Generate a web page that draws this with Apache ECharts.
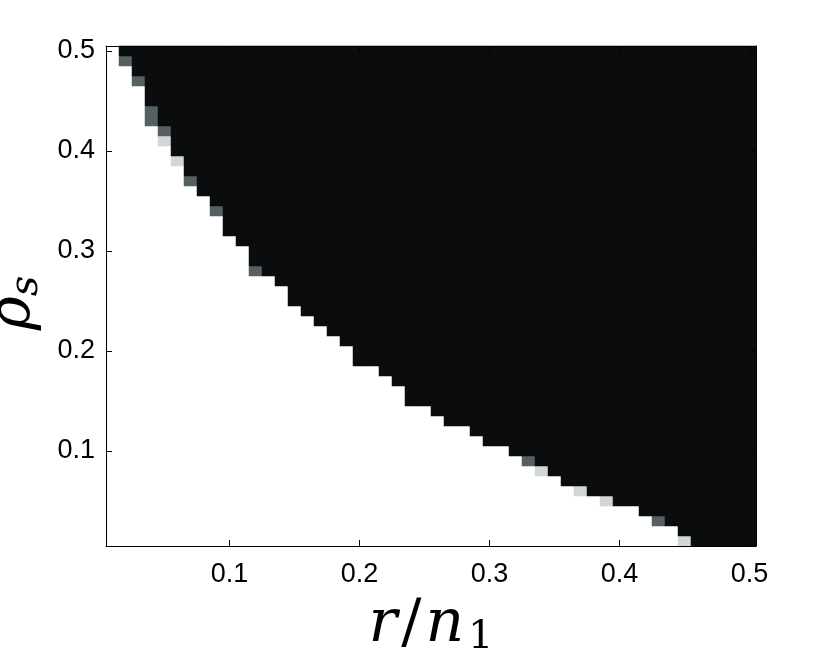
<!DOCTYPE html>
<html>
<head>
<meta charset="utf-8">
<script src="https://cdn.jsdelivr.net/npm/echarts@6/dist/echarts.min.js"></script>
<style>
html, body { margin: 0; padding: 0; background: #fff; }
#chart { width: 830px; height: 657px; }
</style>
</head>
<body>
<div id="chart"></div>
<script>
// r/n1 columns
const xCats = ["0.01","0.02","0.03","0.04","0.05","0.06","0.07","0.08","0.09","0.10",
  "0.11","0.12","0.13","0.14","0.15","0.16","0.17","0.18","0.19","0.20",
  "0.21","0.22","0.23","0.24","0.25","0.26","0.27","0.28","0.29","0.30",
  "0.31","0.32","0.33","0.34","0.35","0.36","0.37","0.38","0.39","0.40",
  "0.41","0.42","0.43","0.44","0.45","0.46","0.47","0.48","0.49","0.50"];
// rho_s rows (bottom to top)
const yCats = xCats.slice();

// for each row (rho_s = 0.01 .. 0.50) the r/n1 where the black region begins
const blackFrom = [0.46,0.45,0.44,0.42,0.40,0.38,0.36,0.35,0.34,0.32,
  0.30,0.29,0.27,0.26,0.24,0.24,0.23,0.22,0.20,0.20,
  0.19,0.18,0.17,0.16,0.15,0.15,0.14,0.13,0.12,0.12,
  0.11,0.10,0.10,0.10,0.09,0.08,0.08,0.07,0.07,0.06,
  0.06,0.06,0.05,0.05,0.04,0.04,0.04,0.03,0.03,0.02];

// grey cells on the boundary: [r/n1, rho_s, value]
const partial = [
  [0.02,0.49,0.65],[0.03,0.47,0.65],[0.04,0.44,0.65],[0.04,0.43,0.65],
  [0.05,0.42,0.65],[0.05,0.41,0.2],[0.06,0.39,0.2],[0.07,0.37,0.65],
  [0.09,0.34,0.65],[0.12,0.28,0.65],[0.33,0.09,0.65],[0.34,0.08,0.2],
  [0.37,0.06,0.2],[0.39,0.05,0.2],[0.43,0.03,0.65],[0.45,0.01,0.2]
];

const tickLabels = ["0.1","0.2","0.3","0.4","0.5"];

const data = [];
const grid = yCats.map((y, k) => xCats.map(x => (parseFloat(x) >= blackFrom[k] - 1e-9 ? 1 : 0)));
partial.forEach(p => {
  const j = xCats.indexOf(p[0].toFixed(2));
  const k = yCats.indexOf(p[1].toFixed(2));
  grid[k][j] = p[2];
});
grid.forEach((row, k) => row.forEach((v, j) => data.push([j, k, v])));

const showTick = (i, v) => tickLabels.indexOf(String(parseFloat(v))) >= 0;

function axis(cats, pos, labels) {
  return {
    type: "category",
    position: pos,
    data: cats,
    z: 10,
    boundaryGap: true,
    axisLine: { show: true, onZero: false, lineStyle: { color: "#000", width: 1 } },
    axisTick: { show: true, inside: true, length: 6, alignWithLabel: true, interval: showTick,
      lineStyle: { color: "#000", width: 1 } },
    axisLabel: {
      show: labels,
      interval: showTick,
      formatter: v => String(parseFloat(v)),
      color: "#000",
      fontFamily: "Liberation Sans",
      fontSize: 27,
      margin: pos === "bottom" ? 15 : 11
    },
    splitLine: { show: false }
  };
}

const chart = echarts.init(document.getElementById("chart"));
const xMain = axis(xCats, "bottom", true);
xMain.name = "{i|r}{n|/}{i|n}{s|1}";
xMain.nameLocation = "middle";
xMain.nameGap = 46;
xMain.nameTextStyle = {
  rich: {
    i: { fontFamily: "DejaVu Serif", fontStyle: "italic", fontSize: 60, color: "#000", lineHeight: 66 },
    n: { fontFamily: "DejaVu Serif", fontSize: 60, color: "#000", lineHeight: 66, padding: [0, 4, 0, 4] },
    s: { fontFamily: "DejaVu Serif", fontSize: 40, color: "#000", lineHeight: 66, verticalAlign: "bottom", padding: [0, 0, 0, 4] }
  }
};
const yMain = axis(yCats, "left", true);
yMain.name = "{i|ρ}{s|s}";
yMain.nameLocation = "middle";
yMain.nameRotate = 90;
yMain.nameGap = 32;
yMain.nameTextStyle = {
  rich: {
    i: { fontFamily: "DejaVu Serif", fontStyle: "italic", fontSize: 58, color: "#000", lineHeight: 66 },
    s: { fontFamily: "DejaVu Serif", fontStyle: "italic", fontSize: 40, color: "#000", lineHeight: 66, verticalAlign: "bottom", padding: [0, 14, 0, 0] }
  }
};

chart.setOption({
  animation: false,
  backgroundColor: "#fff",
  grid: { left: 106, right: 74, top: 46, bottom: 111, containLabel: false, outerBoundsMode: "none" },
  xAxis: [xMain, axis(xCats, "top", false)],
  yAxis: [yMain, axis(yCats, "right", false)],
  visualMap: {
    type: "piecewise",
    show: false,
    dimension: 2,
    pieces: [
      { lt: 0.1, color: "#ffffff" },
      { gte: 0.1, lt: 0.4, color: "#d1d7d7" },
      { gte: 0.4, lt: 0.9, color: "#566062" },
      { gte: 0.9, color: "#0b0c0e" }
    ]
  },
  series: [{
    type: "heatmap",
    xAxisIndex: 0,
    yAxisIndex: 0,
    data: data,
    progressive: 0,
    itemStyle: { borderWidth: 0 },
    emphasis: { disabled: true }
  }]
});
</script>
</body>
</html>
